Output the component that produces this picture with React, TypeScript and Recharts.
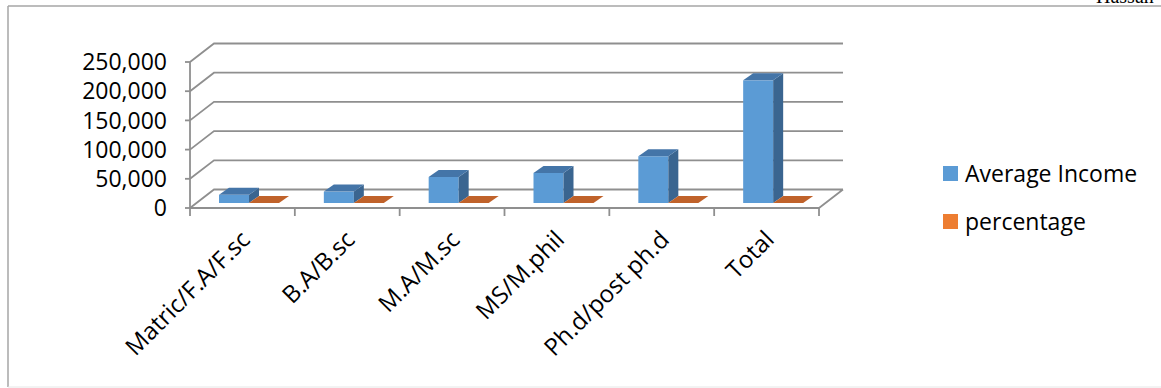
import React from 'react'
import { BarChart, Bar, XAxis, YAxis, CartesianGrid } from 'recharts'

const categories = ['Matric/F.A/F.sc', 'B.A/B.sc', 'M.A/M.sc', 'MS/M.phil', 'Ph.d/post ph.d', 'Total']
const averageIncome = [14000, 19500, 44500, 51500, 80000, 210000]
const percentage = [6.7, 9.3, 21.2, 24.5, 38.1, 100]
const yTicks = [0, 50000, 100000, 150000, 200000, 250000]
const seriesNames = ['Average Income', 'percentage']

const data = categories.map((name, i) => ({ name, income: averageIncome[i], percentage: percentage[i] }))

const W = 1161
const H = 388
const PLOT_LEFT = 190
const PLOT_RIGHT = 819
const PLOT_TOP = 62
const PLOT_BOTTOM = 208
const DEPTH_X = 24
const DEPTH_Y = 18.5
const BAND = (PLOT_RIGHT - PLOT_LEFT) / categories.length
const FONT = '"Open Sans", sans-serif'
const GRID = '#8f8f8f'

const BLUE = { front: '#5b9bd5', top: '#4475a8', side: '#3a6590' }
const ORANGE = { front: '#ed7d31', top: '#c0622a', side: '#a8521f' }

// draws a column as a little box: front face, top face and right side
const box = (c: typeof BLUE) => (props: any) => {
  const { x, y, width, height } = props
  const fx = x + 7
  const fy = y - 5
  const dx = 10
  const dy = 7
  const h = Math.max(height, 0)
  return (
    <g>
      {h > 0.5 && <rect x={fx} y={fy} width={width} height={h} fill={c.front} />}
      {h > 0.5 && (
        <polygon
          points={`${fx + width},${fy} ${fx + width + dx},${fy - dy} ${fx + width + dx},${fy + h - dy} ${fx + width},${fy + h}`}
          fill={c.side}
        />
      )}
      <polygon
        points={`${fx},${fy} ${fx + width},${fy} ${fx + width + dx},${fy - dy} ${fx + dx},${fy - dy}`}
        fill={c.top}
      />
    </g>
  )
}

const CategoryTick = (props: any) => {
  const { x, y, payload, index } = props
  const left = x - BAND / 2
  const ax = x + 9
  const ay = y + 33
  return (
    <g>
      <line x1={left} y1={y} x2={left} y2={y + 8} stroke={GRID} strokeWidth={1.8} />
      {index === categories.length - 1 && (
        <line x1={x + BAND / 2} y1={y} x2={x + BAND / 2} y2={y + 8} stroke={GRID} strokeWidth={1.8} />
      )}
      <text
        x={ax}
        y={ay}
        transform={`rotate(-45 ${ax} ${ay})`}
        textAnchor="end"
        fontSize={24}
        fontFamily={FONT}
        fill="#000"
      >
        {payload.value}
      </text>
    </g>
  )
}

const gridLine = (p: any) => {
  const { x1, x2, y1 } = p
  let d = `M${x1},${y1} L${x1 + DEPTH_X},${y1 - DEPTH_Y} L${x2 + DEPTH_X},${y1 - DEPTH_Y}`
  if (Math.abs(y1 - PLOT_BOTTOM) < 1) d += ` M${x2},${y1} L${x2 + DEPTH_X},${y1 - DEPTH_Y}`
  return <path key={p.key} d={d} stroke={GRID} strokeWidth={1.8} fill="none" />
}

export default function App() {
  const yAxisWidth = 100
  const xAxisHeight = 150
  return (
    <div style={{ position: 'absolute', left: 0, top: 0, width: W, height: H, background: '#fff' }}>
      <BarChart
        width={W}
        height={H}
        data={data}
        barGap={0}
        barSize={30}
        margin={{
          top: PLOT_TOP,
          right: W - PLOT_RIGHT,
          left: PLOT_LEFT - yAxisWidth,
          bottom: H - PLOT_BOTTOM - xAxisHeight,
        }}
      >
        <CartesianGrid vertical={false} horizontal={gridLine} />
        <XAxis
          dataKey="name"
          height={xAxisHeight}
          interval={0}
          tickSize={0}
          tickMargin={0}
          tickLine={false}
          axisLine={{ stroke: GRID, strokeWidth: 1.8 }}
          tick={<CategoryTick />}
        />
        <YAxis
          width={yAxisWidth}
          domain={[0, 250000]}
          ticks={yTicks}
          interval={0}
          tickSize={5}
          tickMargin={18}
          tickFormatter={(v: number) => v.toLocaleString('en-US')}
          tick={{ fontSize: 23, fontFamily: FONT, fill: '#000' }}
          tickLine={{ stroke: GRID, strokeWidth: 1.8 }}
          axisLine={{ stroke: GRID, strokeWidth: 1.8 }}
        />
        <Bar dataKey="income" name={seriesNames[0]} fill={BLUE.front} shape={box(BLUE)} isAnimationActive={false} />
        <Bar dataKey="percentage" name={seriesNames[1]} fill={ORANGE.front} shape={box(ORANGE)} isAnimationActive={false} />
      </BarChart>
      <svg width={W} height={H} style={{ position: 'absolute', left: 0, top: 0, pointerEvents: 'none' }}>
        <line x1={8} y1={6} x2={W} y2={6} stroke="#a6a6a6" strokeWidth={1.5} />
        <line x1={8} y1={6} x2={8} y2={387} stroke="#a6a6a6" strokeWidth={1.5} />
        <line x1={8} y1={387} x2={W} y2={387} stroke="#e6e6e6" strokeWidth={1} />
        <text x={1096} y={3} fontSize={20} fontFamily="'Liberation Serif', serif" fill="#000">Hassan</text>
        <rect x={943} y={166} width={15} height={15} fill={BLUE.front} />
        <text x={965} y={182} fontSize={23} fontFamily={FONT} fill="#000">{seriesNames[0]}</text>
        <rect x={943} y={214} width={15} height={15} fill={ORANGE.front} />
        <text x={965} y={230} fontSize={23} fontFamily={FONT} fill="#000">{seriesNames[1]}</text>
      </svg>
    </div>
  )
}
